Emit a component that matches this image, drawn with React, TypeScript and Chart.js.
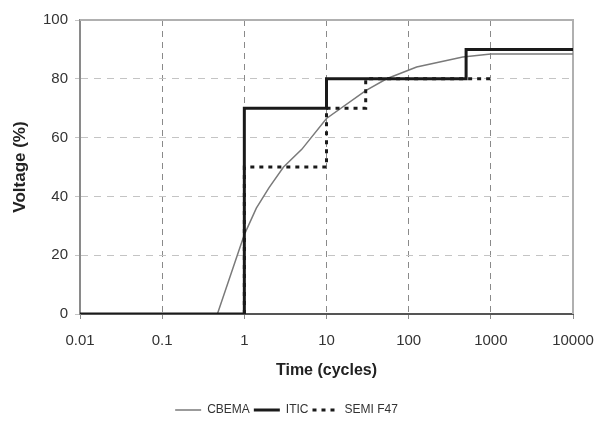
import React, { useEffect, useRef } from "react";
import { Chart, registerables } from "chart.js";

Chart.register(...registerables);

// ---- Data ----
const X_TICKS = [0.01, 0.1, 1, 10, 100, 1000, 10000];
const X_TICK_LABELS = ["0.01", "0.1", "1", "10", "100", "1000", "10000"];
const Y_TICKS = [0, 20, 40, 60, 80, 100];

const CBEMA_X = [0.01, 0.47, 1, 1.4, 2, 3, 5, 10, 30, 54, 125, 455, 1000, 10000];
const CBEMA_Y = [0, 0, 27, 36, 43, 50, 56, 66.5, 76, 80, 84, 87.4, 88.4, 88.4];

const ITIC_X = [0.01, 1, 1, 10, 10, 500, 500, 10000];
const ITIC_Y = [0, 0, 70, 70, 80, 80, 90, 90];

const SEMI_X = [1, 1, 10, 10, 30, 30, 1000];
const SEMI_Y = [0, 50, 50, 70, 70, 80, 80];

const SERIES_NAMES = ["CBEMA", "ITIC", "SEMI F47"];

const toPoints = (xs: number[], ys: number[]) => xs.map((x, i) => ({ x, y: ys[i] }));

const FONT = "Arial, 'Liberation Sans', sans-serif";

const borderPlugin = {
  id: "plotBorder",
  beforeDatasetsDraw(chart: any) {
    const { ctx, chartArea } = chart;
    ctx.save();
    ctx.strokeStyle = "#b0b0b0";
    ctx.lineWidth = 2;
    ctx.setLineDash([]);
    ctx.beginPath();
    ctx.moveTo(chartArea.left, chartArea.top);
    ctx.lineTo(chartArea.right, chartArea.top);
    ctx.lineTo(chartArea.right, chartArea.bottom);
    ctx.stroke();
    ctx.restore();
  },
};

export default function App() {
  const ref = useRef<HTMLCanvasElement | null>(null);

  useEffect(() => {
    if (!ref.current) return;
    const chart = new Chart(ref.current, {
      type: "line",
      data: {
        datasets: [
          {
            label: SERIES_NAMES[0],
            data: toPoints(CBEMA_X, CBEMA_Y),
            borderColor: "#7a7a7a",
            backgroundColor: "#7a7a7a",
            borderWidth: 1.5,
            pointRadius: 0,
            tension: 0,
            order: 2,
          },
          {
            label: SERIES_NAMES[1],
            data: toPoints(ITIC_X, ITIC_Y),
            borderColor: "#1a1a1a",
            backgroundColor: "#1a1a1a",
            borderWidth: 3,
            pointRadius: 0,
            tension: 0,
            order: 0,
          },
          {
            label: SERIES_NAMES[2],
            data: toPoints(SEMI_X, SEMI_Y),
            borderColor: "#1a1a1a",
            backgroundColor: "#1a1a1a",
            borderWidth: 3,
            borderDash: [4, 5],
            pointRadius: 0,
            tension: 0,
            order: 1,
          },
        ],
      },
      options: {
        responsive: false,
        animation: false,
        layout: { padding: { top: 20, right: 25, left: 0, bottom: -3 } },
        plugins: {
          tooltip: { enabled: false },
          legend: {
            position: "bottom",
            labels: {
              usePointStyle: true,
              pointStyle: "line",
              pointStyleWidth: 26,
              padding: 4,
              color: "#333",
              font: { family: FONT, size: 12 },
              sort: (a: any, b: any) => a.datasetIndex - b.datasetIndex,
              generateLabels: (c: any) => {
                const items = (Chart.defaults as any).plugins.legend.labels.generateLabels(c);
                return items.map((it: any) => {
                  const ds = c.data.datasets[it.datasetIndex];
                  return {
                    ...it,
                    pointStyle: "line",
                    lineDash: ds.borderDash || [],
                    lineWidth: ds.borderWidth,
                    strokeStyle: ds.borderColor,
                    fillStyle: ds.borderColor,
                  };
                });
              },
            },
          },
        },
        scales: {
          x: {
            type: "logarithmic",
            min: 0.01,
            max: 10000,
            afterBuildTicks: (scale: any) => {
              scale.ticks = X_TICKS.map((v) => ({ value: v }));
            },
            afterFit: (scale: any) => {
              scale.height = 86;
              scale.paddingLeft = 0;
              scale.paddingRight = 0;
            },
            ticks: {
              autoSkip: false,
              maxRotation: 0,
              padding: 13,
              color: "#333",
              font: { family: FONT, size: 15 },
              callback: (_v: any, i: number) => X_TICK_LABELS[i],
            },
            grid: {
              color: "#8a8a8a",
              lineWidth: 1,
              tickLength: 5,
              tickColor: "#8a8a8a",
            },
            border: { display: true, color: "#555", width: 2, dash: [6, 5] },
            title: {
              display: true,
              text: "Time (cycles)",
              color: "#222",
              font: { family: FONT, size: 16, weight: "bold" },
              padding: { top: 0, bottom: 20 },
            },
          },
          y: {
            type: "linear",
            min: 0,
            max: 100,
            afterBuildTicks: (scale: any) => {
              scale.ticks = Y_TICKS.map((v) => ({ value: v }));
            },
            afterFit: (scale: any) => {
              scale.width = 80;
              scale.paddingTop = 0;
              scale.paddingBottom = 0;
            },
            ticks: {
              padding: 7,
              color: "#333",
              font: { family: FONT, size: 15 },
            },
            grid: {
              color: "#c4c4c4",
              lineWidth: 1,
              tickLength: 5,
            },
            border: { display: true, color: "#8a8a8a", width: 2, dash: [7, 6] },
            title: {
              display: true,
              text: "Voltage (%)",
              color: "#222",
              font: { family: FONT, size: 17, weight: "bold" },
              padding: { top: 10, bottom: 0 },
            },
          },
        },
      },
      plugins: [borderPlugin],
    } as any);
    return () => chart.destroy();
  }, []);

  return (
    <div style={{ position: "absolute", left: 0, top: 0, width: 598, height: 423, background: "#fff" }}>
      <canvas ref={ref} width={598} height={423} />
    </div>
  );
}
